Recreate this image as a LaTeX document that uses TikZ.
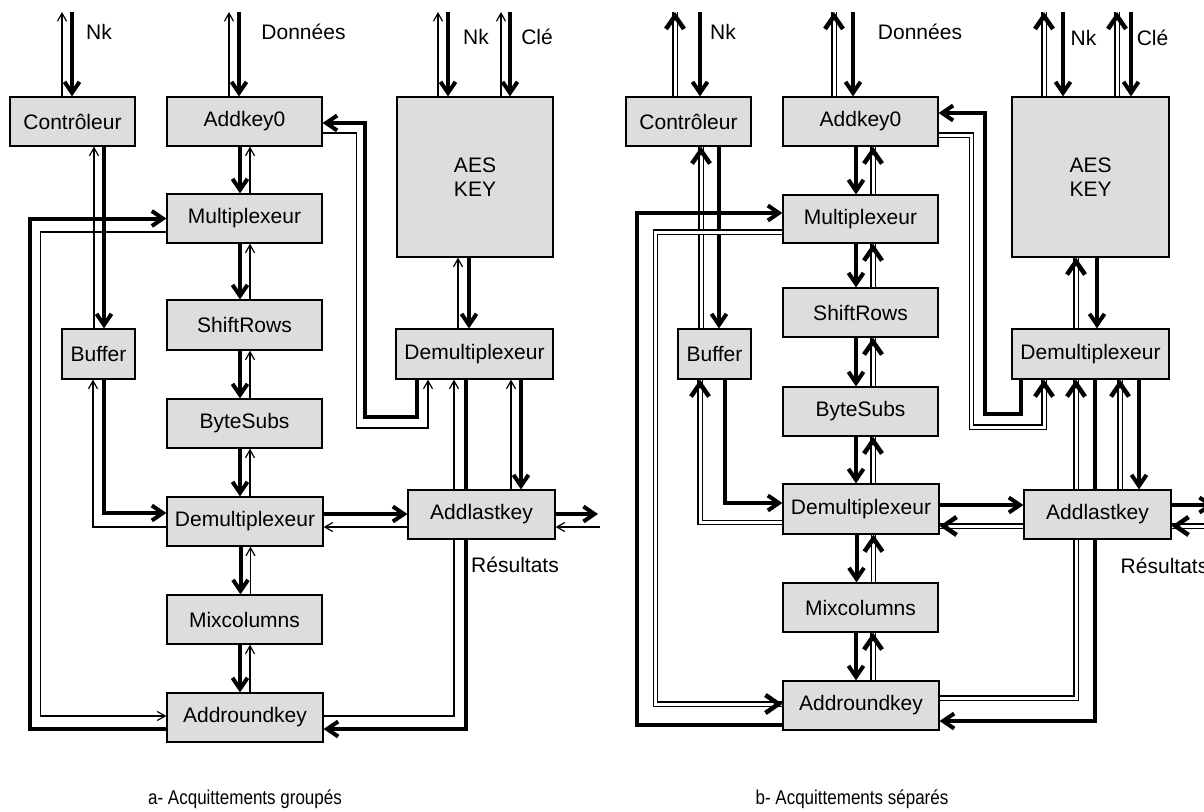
\documentclass[tikz,border=0pt]{standalone}
\usepackage{fontspec}
\setmainfont{Liberation Sans}
\newfontfamily\capfont[FakeStretch=0.85]{Liberation Sans}
\usetikzlibrary{arrows.meta,decorations.markings,calc}
\pgfdeclarelayer{bg}
\pgfsetlayers{bg,main}
\definecolor{boxgray}{RGB}{221,221,221}
\tikzset{
  blk/.style={draw=black, line width=1.2pt, fill=boxgray, inner sep=0pt, font=\fontsize{21pt}{24pt}\selectfont, align=center},
  thk/.style={line width=4pt, -{Straight Barb[length=11pt,width=15pt,line width=4pt]}},
  thn/.style={line width=1.2pt, -{Straight Barb[length=8pt,width=9pt,line width=1.2pt]}},
  dbl/.style={double, double distance=3pt, line width=1.1pt,
    postaction={decorate, decoration={markings, mark=at position 1 with {\pgfsetinnerlinewidth{0pt}\pgfsetlinewidth{4.5pt}\arrow{Straight Barb[length=13pt,width=18pt,line width=4.5pt]}}}}},
  lbl/.style={font=\fontsize{21pt}{24pt}\selectfont, inner sep=0pt},
  captxt/.style={font=\capfont\fontsize{20pt}{23pt}\selectfont, inner sep=0pt},
}
\begin{document}
\begin{tikzpicture}[x=1pt,y=-1pt]
\useasboundingbox (0,0) rectangle (1204,811);
% ---------------- left diagram boxes
\node[blk, minimum width=125pt, minimum height=49pt] (ctrlA) at (72.5,121.5) {Contrôleur};
\node[blk, minimum width=155pt, minimum height=49pt] (addk0A) at (244.5,121.5) {Addkey0};
\node[blk, minimum width=156pt, minimum height=160pt] (aesA) at (475,177) {AES\\KEY};
\node[blk, minimum width=155pt, minimum height=49pt] (muxA) at (244.5,218.5) {Multiplexeur};
\node[blk, minimum width=155pt, minimum height=50pt] (shiftA) at (244.5,325) {ShiftRows};
\node[blk, minimum width=155pt, minimum height=49pt] (byteA) at (244.5,423.5) {ByteSubs};
\node[blk, minimum width=156pt, minimum height=49pt] (demuxA) at (245,521.5) {Demultiplexeur};
\node[blk, minimum width=155pt, minimum height=49pt] (mixA) at (244.5,619.5) {Mixcolumns};
\node[blk, minimum width=156pt, minimum height=49pt] (addrA) at (245,717.5) {Addroundkey};
\node[blk, minimum width=73pt, minimum height=50pt] (bufA) at (98.5,354) {Buffer};
\node[blk, minimum width=157pt, minimum height=50pt] (demux2A) at (474.5,354) {Demultiplexeur};
\node[blk, minimum width=147pt, minimum height=49pt] (lastA) at (481.5,514.5) {Addlastkey};
% ---------------- right diagram boxes
\node[blk, minimum width=125pt, minimum height=49pt] (ctrlB) at (688.5,121.5) {Contrôleur};
\node[blk, minimum width=155pt, minimum height=49pt] (addk0B) at (860.5,121.5) {Addkey0};
\node[blk, minimum width=157pt, minimum height=160pt] (aesB) at (1090.5,177) {AES\\KEY};
\node[blk, minimum width=155pt, minimum height=48pt] (muxB) at (860.5,219) {Multiplexeur};
\node[blk, minimum width=155pt, minimum height=49pt] (shiftB) at (860.5,312.5) {ShiftRows};
\node[blk, minimum width=155pt, minimum height=49pt] (byteB) at (860.5,411.5) {ByteSubs};
\node[blk, minimum width=156pt, minimum height=50pt] (demuxB) at (861,509) {Demultiplexeur};
\node[blk, minimum width=155pt, minimum height=49pt] (mixB) at (860.5,607.5) {Mixcolumns};
\node[blk, minimum width=156pt, minimum height=49pt] (addrB) at (861,705.5) {Addroundkey};
\node[blk, minimum width=73pt, minimum height=50pt] (bufB) at (714.5,354) {Buffer};
\node[blk, minimum width=157pt, minimum height=50pt] (demux2B) at (1090.5,354) {Demultiplexeur};
\node[blk, minimum width=147pt, minimum height=49pt] (lastB) at (1097.5,514.5) {Addlastkey};
% ---------------- labels
\node[lbl] (lNkA) at (99,32) {Nk};
\node[lbl] (lDonA) at (303.5,32) {Données};
\node[lbl] (lNk2A) at (476,37) {Nk};
\node[lbl] (lCleA) at (537,37) {Clé};
\node[lbl] (resA) at (515,565) {Résultats};
\node[lbl] (lNkB) at (723,32) {Nk};
\node[lbl] (lDonB) at (920,32) {Données};
\node[lbl] (lNk2B) at (1083.5,38) {Nk};
\node[lbl] (lCleB) at (1152.5,38) {Clé};
\node[lbl] (resB) at (1164.5,566) {Résultats};
\node[captxt] (capA) at (245,799) {a- Acquittements groupés};
\node[captxt] (capB) at (852,799) {b- Acquittements séparés};
% ---------------- free ends
\coordinate (inNkA) at (72,12);   \coordinate (akNkA) at (62,12);
\coordinate (inDA) at (239,12);   \coordinate (akDA) at (229,12);
\coordinate (inKA) at (448,12);   \coordinate (akKA) at (438,12);
\coordinate (inCA) at (510,12);   \coordinate (akCA) at (501,12);
\coordinate (outA) at (598,514);  \coordinate (retA) at (600,527);
\coordinate (inNkB) at (700,12);  \coordinate (akNkB) at (675,12);
\coordinate (inDB) at (853,12);   \coordinate (akDB) at (834,12);
\coordinate (inKB) at (1063,12);  \coordinate (akKB) at (1044,12);
\coordinate (inCB) at (1131,12);  \coordinate (akCB) at (1117,12);
\coordinate (outB) at (1214,505); \coordinate (retB) at (1214,526);
\begin{pgfonlayer}{bg}
% ================= left diagram connectors
\draw[thk] (inNkA) -- (inNkA |- ctrlA.north);
\draw[thn] (akNkA |- ctrlA.north) -- (akNkA);
\draw[thk] (inDA) -- (inDA |- addk0A.north);
\draw[thn] (akDA |- addk0A.north) -- (akDA);
\draw[thk] (inKA) -- (inKA |- aesA.north);
\draw[thn] (akKA |- aesA.north) -- (akKA);
\draw[thk] (inCA) -- (inCA |- aesA.north);
\draw[thn] (akCA |- aesA.north) -- (akCA);
\foreach \a/\b in {addk0A/muxA, muxA/shiftA, shiftA/byteA, byteA/demuxA, demuxA/mixA, mixA/addrA}{
  \draw[thk] ([xshift=-4.5pt]\a.south) -- ([xshift=-4.5pt]\a.south |- \b.north);
  \draw[thn] ([xshift=5.5pt]\a.south |- \b.north) -- ([xshift=5.5pt]\a.south);
}
\draw[thk] ([xshift=31.5pt]ctrlA.south) -- ([xshift=31.5pt]ctrlA.south |- bufA.north);
\draw[thn] ([xshift=21.5pt]ctrlA.south |- bufA.north) -- ([xshift=21.5pt]ctrlA.south);
\draw[thk] ([xshift=5.5pt]bufA.south) |- ([yshift=8.5pt]demuxA.west);
\draw[thn] ([yshift=-5.5pt]demuxA.west) -| ([xshift=-5.5pt]bufA.south);
\draw[thk] ([yshift=7.5pt]demuxA.east) -- ([yshift=7.5pt]demuxA.east -| lastA.west);
\draw[thn] ([yshift=-5.5pt]demuxA.east -| lastA.west) -- ([yshift=-5.5pt]demuxA.east);
\draw[thk] (outA -| lastA.east) -- (outA);
\draw[thn] (retA) -- (retA -| lastA.east);
\draw[thk] ([yshift=-11.5pt]addrA.west) -- ++(-136,0) |- (muxA.west);
\draw[thn] ([yshift=-13.5pt]muxA.west) -- ++(-126,0) |- ([yshift=1.5pt]addrA.west);
\draw[thk] ([xshift=-6pt]aesA.south) -- ([xshift=-6pt]aesA.south |- demux2A.north);
\draw[thn] ([xshift=-17pt]aesA.south |- demux2A.north) -- ([xshift=-17pt]aesA.south);
\draw[thk] ([xshift=-57.5pt]demux2A.south) -- ++(0,37) -- ++(-52,0) |- ([yshift=-1.5pt]addk0A.east);
\draw[thn] ([yshift=-11.5pt]addk0A.east) -- ++(34,0) -- ++(0,295) -| ([xshift=-46.5pt]demux2A.south);
\draw[thk] ([xshift=-8.5pt]demux2A.south) |- ([yshift=-11.5pt]addrA.east);
\draw[thn] ([yshift=1.5pt]addrA.east) -| ([xshift=-20.5pt]demux2A.south);
\draw[thk] ([xshift=46.5pt]demux2A.south) -- ([xshift=46.5pt]demux2A.south |- lastA.north);
\draw[thn] ([xshift=36.5pt]demux2A.south |- lastA.north) -- ([xshift=36.5pt]demux2A.south);
% ================= right diagram connectors
\draw[thk] (inNkB) -- (inNkB |- ctrlB.north);
\draw[dbl] (akNkB |- ctrlB.north) -- (akNkB);
\draw[thk] (inDB) -- (inDB |- addk0B.north);
\draw[dbl] (akDB |- addk0B.north) -- (akDB);
\draw[thk] (inKB) -- (inKB |- aesB.north);
\draw[dbl] (akKB |- aesB.north) -- (akKB);
\draw[thk] (inCB) -- (inCB |- aesB.north);
\draw[dbl] (akCB |- aesB.north) -- (akCB);
\foreach \a/\b in {addk0B/muxB, muxB/shiftB, shiftB/byteB, byteB/demuxB, demuxB/mixB, mixB/addrB}{
  \draw[thk] ([xshift=-4.5pt]\a.south) -- ([xshift=-4.5pt]\a.south |- \b.north);
  \draw[dbl] ([xshift=12.5pt]\a.south |- \b.north) -- ([xshift=12.5pt]\a.south);
}
\draw[thk] ([xshift=30.5pt]ctrlB.south) -- ([xshift=30.5pt]ctrlB.south |- bufB.north);
\draw[dbl] ([xshift=12.5pt]ctrlB.south |- bufB.north) -- ([xshift=12.5pt]ctrlB.south);
\draw[thk] ([xshift=10.5pt]bufB.south) |- ([yshift=6pt]demuxB.west);
\draw[dbl] ([yshift=-13.5pt]demuxB.west) -| ([xshift=-14.5pt]bufB.south);
\draw[thk] ([yshift=4pt]demuxB.east) -- ([yshift=4pt]demuxB.east -| lastB.west);
\draw[dbl] ([yshift=-17pt]demuxB.east -| lastB.west) -- ([yshift=-17pt]demuxB.east);
\draw[thk] (outB -| lastB.east) -- (outB);
\draw[dbl] (retB) -- (retB -| lastB.east);
\draw[thk] ([yshift=-19.5pt]addrB.west) -- ++(-145,0) |- ([yshift=6pt]muxB.west);
\draw[dbl] ([yshift=-13pt]muxB.west) -- ++(-127,0) |- ([yshift=1.5pt]addrB.west);
\draw[thk] ([xshift=6.5pt]aesB.south) -- ([xshift=6.5pt]aesB.south |- demux2B.north);
\draw[dbl] ([xshift=-14.5pt]aesB.south |- demux2B.north) -- ([xshift=-14.5pt]aesB.south);
\draw[thk] ([xshift=-69.5pt]demux2B.south) -- ++(0,34) -- ++(-36,0) |- ([yshift=8.5pt]addk0B.east);
\draw[dbl] ([yshift=-13.5pt]addk0B.east) -- ++(33,0) -- ++(0,292) -| ([xshift=-46.5pt]demux2B.south);
\draw[thk] ([xshift=4.5pt]demux2B.south) |- ([yshift=-15.5pt]addrB.east);
\draw[dbl] ([yshift=7.5pt]addrB.east) -| ([xshift=-14.5pt]demux2B.south);
\draw[thk] ([xshift=48.5pt]demux2B.south) -- ([xshift=48.5pt]demux2B.south |- lastB.north);
\draw[dbl] ([xshift=29.5pt]demux2B.south |- lastB.north) -- ([xshift=29.5pt]demux2B.south);
\end{pgfonlayer}
\end{tikzpicture}
\end{document}
